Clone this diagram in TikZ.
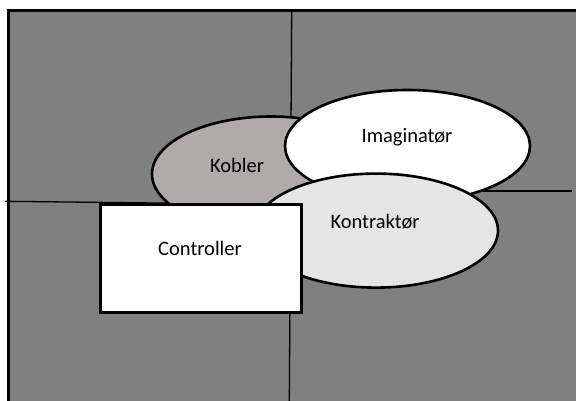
\documentclass[tikz,border=0pt]{standalone}
\usepackage{fontspec}
\setmainfont{Carlito}
\usetikzlibrary{shapes.geometric}
\definecolor{bggray}{HTML}{808080}
\definecolor{koblerfill}{HTML}{AFABAB}
\definecolor{kontrfill}{HTML}{E5E5E5}
\tikzset{
  blob/.style={draw=black, line width=2.6pt, ellipse, minimum width=244pt, minimum height=114pt, inner sep=0pt},
  gridline/.style={draw=black, line width=1.3pt},
  lbl/.style={font=\fontsize{20.5}{24}\selectfont, text=black, inner sep=0pt}
}
\begin{document}
\begin{tikzpicture}[x=1pt, y=-1pt]
\useasboundingbox (0,0) rectangle (576,401);
\clip (0,0) rectangle (576,401);
\fill[white] (0,0) rectangle (576,401);
\draw[fill=bggray, line width=2.6pt] (8.5,10.5) rectangle (600,430);
% grid lines
\coordinate (vt) at (291.7,12);
\coordinate (vb) at (289.3,405);
\draw[gridline] (vt) -- (vb);
\coordinate (hl1) at (5,201.3);
\coordinate (hl2) at (200,203.5);
\draw[gridline] (hl1) -- (hl2);
\coordinate (hr1) at (420,191);
\coordinate (hr2) at (572,191);
\draw[gridline] (hr1) -- (hr2);
% shapes
\node[blob, fill=koblerfill, minimum width=238pt, minimum height=115pt] (kob) at (271,174) {};
\node[lbl] at (237,165) {Kobler};
\node[blob, fill=white, minimum width=245pt, minimum height=112pt] (ima) at (407.5,146) {};
\node[lbl] at (407,137) {Imaginatør};
\node[blob, fill=kontrfill, minimum width=244pt, minimum height=114pt] (kon) at (376,230.6) {};
\node[lbl] at (375,222) {Kontraktør};
\node[draw=black, fill=white, line width=2.6pt, minimum width=201pt, minimum height=108.5pt, inner sep=0pt] (ctl) at (201,258.5) {};
\node[lbl] at (200,248) {Controller};
\end{tikzpicture}
\end{document}
